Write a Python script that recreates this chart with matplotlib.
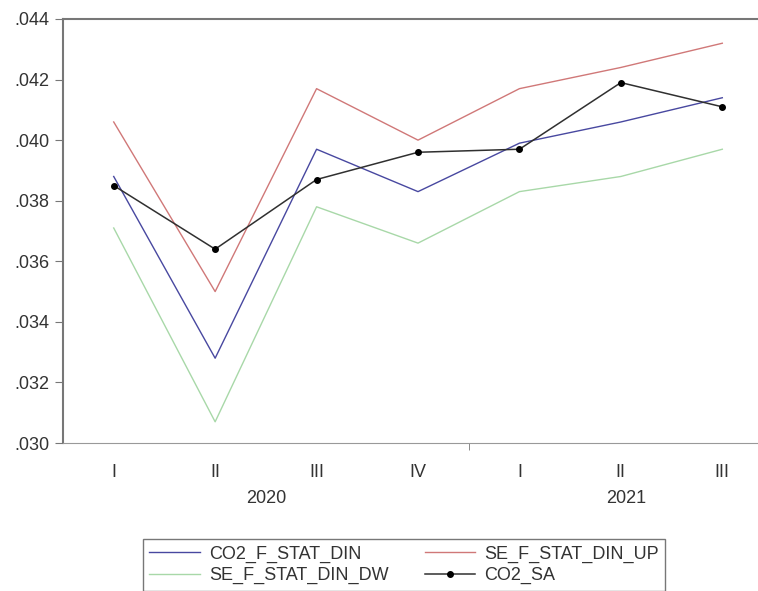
import numpy as np
import matplotlib
matplotlib.use("Agg")
import matplotlib.pyplot as plt
from matplotlib.ticker import FuncFormatter, FixedLocator

plt.rcParams['font.family'] = ['Liberation Sans', 'DejaVu Sans']

quarters = ['I', 'II', 'III', 'IV', 'I', 'II', 'III']
years = ['2020', '2021']
co2_f_stat_din = [0.0388, 0.0328, 0.0397, 0.0383, 0.0399, 0.0406, 0.0414]
se_f_stat_din_up = [0.0406, 0.0350, 0.0417, 0.0400, 0.0417, 0.0424, 0.0432]
se_f_stat_din_dw = [0.0371, 0.0307, 0.0378, 0.0366, 0.0383, 0.0388, 0.0397]
co2_sa = [0.0385, 0.0364, 0.0387, 0.0396, 0.0397, 0.0419, 0.0411]

x = np.arange(len(quarters))
fs = 13

fig = plt.figure(figsize=(7.58, 5.91), dpi=100)
ax = fig.add_axes([63 / 758, 148 / 591, 0.93, 424 / 591])

l1, = ax.plot(x, co2_f_stat_din, color='#4848a0', lw=1.0)
l2, = ax.plot(x, se_f_stat_din_up, color='#d07878', lw=1.0)
l3, = ax.plot(x, se_f_stat_din_dw, color='#a8d8a8', lw=1.0)
l4, = ax.plot(x, co2_sa, color='#303030', lw=1.1, marker='o', markersize=4,
              markerfacecolor='black', markeredgecolor='black')

ax.set_xlim(-0.5, 6.45)
ax.set_ylim(0.030, 0.044)
ax.set_yticks(np.arange(0.030, 0.0441, 0.002))
ax.yaxis.set_major_formatter(FuncFormatter(lambda v, p: ('%.3f' % v).lstrip('0')))

ax.set_xticks(x)
ax.set_xticklabels(quarters)
ax.tick_params(axis='x', which='major', length=0, pad=15, labelsize=fs, colors='#333333')
ax.xaxis.set_minor_locator(FixedLocator([3.5]))
ax.tick_params(axis='x', which='minor', length=5, color='#777777')
ax.tick_params(axis='y', length=6, pad=4, labelsize=fs, colors='#333333', color='#777777')

# year labels under quarters
ax.text(1.5, -0.13, years[0], transform=ax.get_xaxis_transform(), ha='center',
        va='center', fontsize=fs, color='#333333')
ax.text(5.05, -0.13, years[1], transform=ax.get_xaxis_transform(), ha='center',
        va='center', fontsize=fs, color='#333333')

for s in ['left', 'top']:
    ax.spines[s].set_color('#777777')
    ax.spines[s].set_linewidth(1.5)
ax.spines['bottom'].set_color('#999999')
ax.spines['right'].set_visible(False)

leg = fig.legend([l1, l3, l2, l4],
                 ['CO2_F_STAT_DIN', 'SE_F_STAT_DIN_DW', 'SE_F_STAT_DIN_UP', 'CO2_SA'],
                 ncol=2, loc='upper left', bbox_to_anchor=(143 / 758, 52 / 591),
                 fontsize=fs, frameon=True, fancybox=False,
                 borderpad=0.35, labelspacing=0.25, handlelength=2.8, handletextpad=0.5,
                 columnspacing=2.0, borderaxespad=0)
leg.get_frame().set_edgecolor('#555555')
leg.get_frame().set_linewidth(1.0)
for t in leg.get_texts():
    t.set_color('#333333')

fig.savefig('out.png', dpi=100)
